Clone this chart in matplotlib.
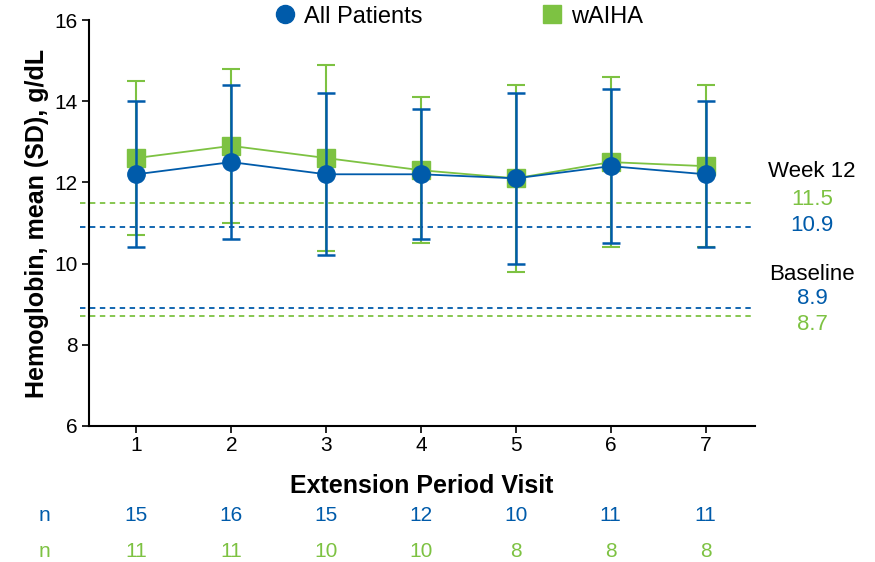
import numpy as np
import matplotlib.pyplot as plt
from matplotlib.lines import Line2D

plt.rcParams['font.family'] = ['Liberation Sans', 'DejaVu Sans']

# data
visits = [1, 2, 3, 4, 5, 6, 7]
all_mean = [12.2, 12.5, 12.2, 12.2, 12.1, 12.4, 12.2]
all_upper = [14.0, 14.4, 14.2, 13.8, 14.2, 14.3, 14.0]
all_lower = [10.4, 10.6, 10.2, 10.6, 10.0, 10.5, 10.4]
waiha_mean = [12.6, 12.9, 12.6, 12.3, 12.1, 12.5, 12.4]
waiha_upper = [14.5, 14.8, 14.9, 14.1, 14.4, 14.6, 14.4]
waiha_lower = [10.7, 11.0, 10.3, 10.5, 9.8, 10.4, 10.4]
n_all = [15, 16, 15, 12, 10, 11, 11]
n_waiha = [11, 11, 10, 10, 8, 8, 8]
week12_waiha, week12_all = 11.5, 10.9
base_all, base_waiha = 8.9, 8.7

blue = '#005baa'
green = '#7dc242'

fig = plt.figure(figsize=(8.75, 5.62), dpi=100)
ax = fig.add_axes([0.1017, 0.242, 0.761, 0.7224])

x = np.array(visits)
wm = np.array(waiha_mean)
am = np.array(all_mean)

ax.errorbar(x, wm, yerr=[wm - np.array(waiha_lower), np.array(waiha_upper) - wm],
            color=green, marker='s', markersize=12.5, lw=1.3, elinewidth=1.5,
            capsize=6.5, capthick=1.5, zorder=3)
ax.errorbar(x, am, yerr=[am - np.array(all_lower), np.array(all_upper) - am],
            color=blue, marker='o', markersize=12.5, lw=1.3, elinewidth=1.8,
            capsize=6.5, capthick=1.8, zorder=4)

# reference lines
for val, c in [(week12_waiha, green), (week12_all, blue),
               (base_all, blue), (base_waiha, green)]:
    ax.plot([0.4, 7.5], [val, val], ls=(0, (3, 2.5)), color=c, lw=1.3,
            clip_on=False, zorder=2)

ax.set_xlim(0.5, 7.52)
ax.set_ylim(6, 16)
ax.set_xticks(visits)
ax.set_yticks([6, 8, 10, 12, 14, 16])
ax.tick_params(labelsize=15, length=5, width=1.2, pad=3)
ax.tick_params(axis='x', pad=2)
ax.spines['top'].set_visible(False)
ax.spines['right'].set_visible(False)
ax.spines['left'].set_linewidth(1.5)
ax.spines['bottom'].set_linewidth(1.5)

ax.set_ylabel('Hemoglobin, mean (SD), g/dL', fontsize=18, fontweight='bold', labelpad=4)
ax.set_xlabel('Extension Period Visit', fontsize=18, fontweight='bold', labelpad=14)

# right-side annotations
tr = ax.get_yaxis_transform()
xr = 1.086
ax.text(xr, 12.26, 'Week 12', transform=tr, fontsize=16, ha='center', va='center')
ax.text(xr, 11.59, '11.5', transform=tr, fontsize=16, ha='center', va='center', color=green)
ax.text(xr, 10.95, '10.9', transform=tr, fontsize=16, ha='center', va='center', color=blue)
ax.text(xr, 9.74, 'Baseline', transform=tr, fontsize=16, ha='center', va='center')
ax.text(xr, 9.15, '8.9', transform=tr, fontsize=16, ha='center', va='center', color=blue)
ax.text(xr, 8.51, '8.7', transform=tr, fontsize=16, ha='center', va='center', color=green)

# n rows
xt = ax.get_xaxis_transform()
ax.text(-0.067, -0.22, 'n', transform=ax.transAxes, fontsize=15, ha='center',
        va='center', color=blue)
ax.text(-0.067, -0.309, 'n', transform=ax.transAxes, fontsize=15, ha='center',
        va='center', color=green)
for xi, na, nw in zip(visits, n_all, n_waiha):
    ax.text(xi, -0.22, str(na), transform=xt, fontsize=15, ha='center', va='center',
            color=blue)
    ax.text(xi, -0.309, str(nw), transform=xt, fontsize=15, ha='center', va='center',
            color=green)

handles = [Line2D([], [], color=blue, marker='o', markersize=13, lw=0),
           Line2D([], [], color=green, marker='s', markersize=12.5, lw=0)]
ax.legend(handles, ['All Patients', 'wAIHA'], loc='center', ncol=2,
          bbox_to_anchor=(0.554, 1.008), frameon=False, fontsize=17,
          handletextpad=0.3, columnspacing=5.0, handlelength=1.0,
          borderaxespad=0)

fig.savefig('out.png', dpi=100)
